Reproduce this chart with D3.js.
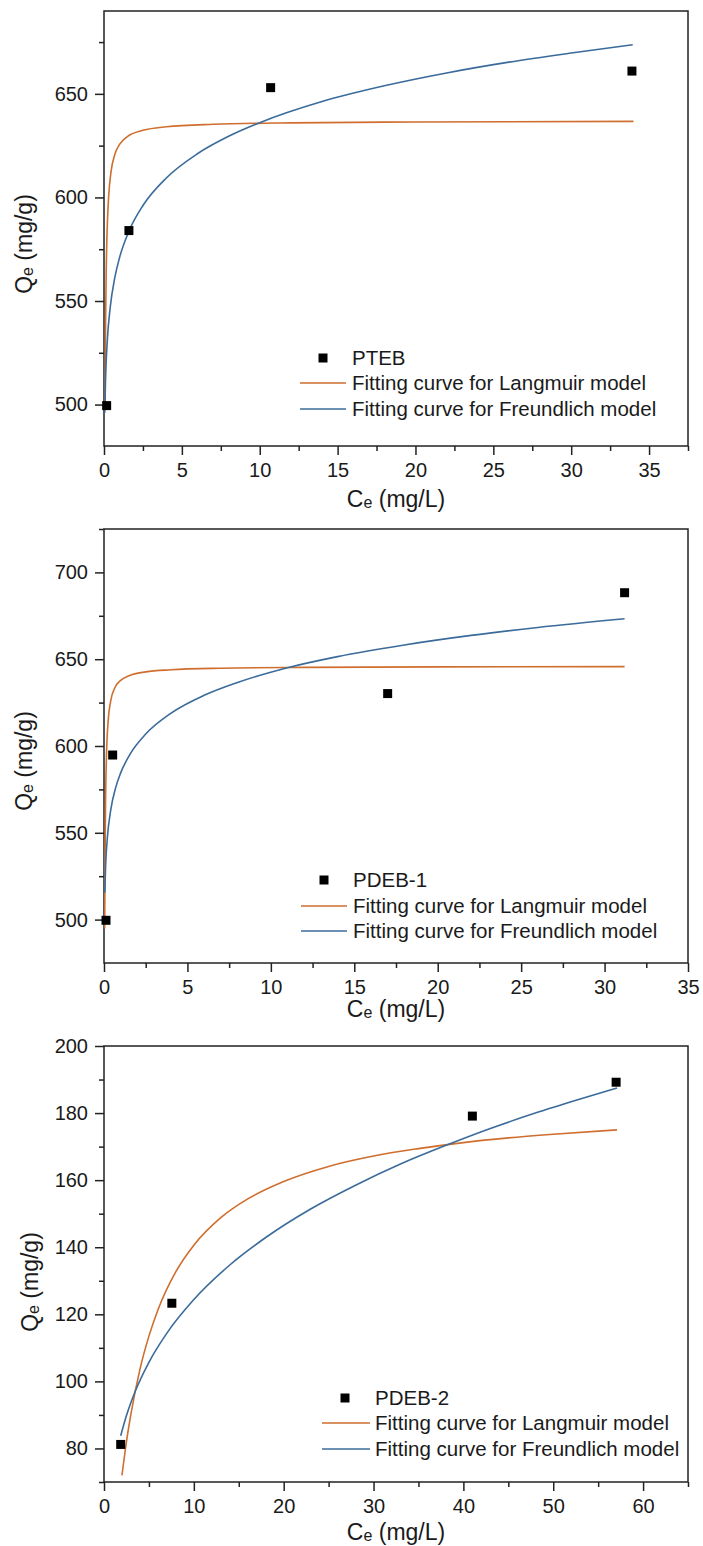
<!DOCTYPE html>
<html>
<head>
<meta charset="utf-8">
<title>Adsorption isotherms</title>
<script src="https://cdn.jsdelivr.net/npm/d3@7"></script>
<style>
  body { margin: 0; background: #fff; }
  svg text { font-family: "Liberation Sans", Arial, sans-serif; fill: #1a1a1a; }
</style>
</head>
<body>
<div id="chart"></div>
<script>
// ---- data ----
// PTEB
const ptebCe = [0.17, 1.6, 10.7, 33.9];
const ptebQe = [499.5, 584, 653, 661];
const ptebLangCe = [0.065, 0.1, 0.15, 0.2, 0.3, 0.45, 0.7, 1, 1.5, 2.5, 4, 7, 12, 20, 34];
const ptebLangQe = [497.7, 539, 568.1, 583.9, 600.6, 612.3, 620.9, 625.6, 629.4, 632.4, 634.1, 635.3, 636.0, 636.4, 636.7];
const ptebFreuCe = [0.05, 0.1, 0.2, 0.4, 0.7, 1, 1.6, 2.5, 4, 6, 8, 10, 14, 18, 22, 26, 30, 33.95];
const ptebFreuQe = [496.1, 512.5, 529.5, 547, 561.5, 571, 583.7, 596.1, 609.4, 621.1, 629.5, 636.1, 646.3, 653.9, 660.1, 665.3, 669.7, 673.7];

// PDEB-1
const pdeb1Ce = [0.12, 0.52, 17.0, 31.2];
const pdeb1Qe = [499.6, 594.8, 630.2, 688.3];
const pdeb1LangCe = [0.042, 0.06, 0.1, 0.15, 0.25, 0.4, 0.66, 1, 1.5, 2.5, 4, 7, 12, 20, 31.2];
const pdeb1LangQe = [494.9, 532.3, 572.6, 595.1, 614.5, 625.9, 633.7, 637.8, 640.5, 642.7, 643.9, 644.8, 645.3, 645.6, 645.7];
const pdeb1FreuCe = [0.047, 0.1, 0.2, 0.4, 0.7, 1, 1.6, 2.5, 4, 6, 8, 11, 14, 18, 22, 26, 31.2];
const pdeb1FreuQe = [515.5, 531.7, 547.1, 562.9, 576, 584.5, 595.9, 606.9, 618.8, 629.2, 636.6, 645.1, 651.5, 658.2, 663.7, 668.3, 673.3];

// PDEB-2
const pdeb2Ce = [1.86, 7.55, 41.0, 57.0];
const pdeb2Qe = [81.2, 123.3, 179.1, 189.2];
const pdeb2LangCe = [2, 2.5, 3, 4, 5, 6, 8, 10, 13, 16, 20, 25, 30, 35, 40, 45, 50, 57.1];
const pdeb2LangQe = [72.0, 82.0, 90.3, 103.6, 113.5, 121.3, 132.7, 140.6, 148.8, 154.4, 159.6, 164.1, 167.2, 169.4, 171.2, 172.6, 173.7, 175.0];
const pdeb2FreuCe = [1.86, 2.5, 3.5, 5, 7, 10, 14, 18, 23, 28, 33, 38, 43, 48, 53, 57.1];
const pdeb2FreuQe = [83.8, 89.8, 97.2, 105.7, 114.4, 124.4, 134.7, 142.9, 151.4, 158.5, 164.8, 170.3, 175.4, 180.0, 184.2, 187.5];

const legendLabels = ["Fitting curve for Langmuir model", "Fitting curve for Freundlich model"];

// ---- layout ----
const W = 703, H = 1546;
const orange = "#cf6e2e", blue = "#3a6b9b";

const panels = [
  { name: "PTEB", ce: ptebCe, qe: ptebQe,
    lang: [ptebLangCe, ptebLangQe], freu: [ptebFreuCe, ptebFreuQe],
    top: 11, bottom: 446, xDom: [0, 37.5], yDom: [480, 690],
    xTicks: [0, 5, 10, 15, 20, 25, 30, 35], xMinor: [2.5, 7.5, 12.5, 17.5, 22.5, 27.5, 32.5, 37.5],
    yTicks: [500, 550, 600, 650], yMinor: [525, 575, 625, 675],
    xTitleY: 507, yTitleY: 244, yTitleX: 32,
    leg: { mx: 323, my: 358, lx0: 300, lx1: 346, tx: 352, rows: [383, 409] } },
  { name: "PDEB-1", ce: pdeb1Ce, qe: pdeb1Qe,
    lang: [pdeb1LangCe, pdeb1LangQe], freu: [pdeb1FreuCe, pdeb1FreuQe],
    top: 529, bottom: 963, xDom: [0, 35], yDom: [475, 725],
    xTicks: [0, 5, 10, 15, 20, 25, 30, 35], xMinor: [2.5, 7.5, 12.5, 17.5, 22.5, 27.5, 32.5],
    yTicks: [500, 550, 600, 650, 700], yMinor: [525, 575, 625, 675, 725],
    xTitleY: 1017, yTitleY: 761, yTitleX: 32,
    leg: { mx: 324, my: 880, lx0: 301, lx1: 347, tx: 353, rows: [906, 931] } },
  { name: "PDEB-2", ce: pdeb2Ce, qe: pdeb2Qe,
    lang: [pdeb2LangCe, pdeb2LangQe], freu: [pdeb2FreuCe, pdeb2FreuQe],
    top: 1046, bottom: 1482, xDom: [0, 65], yDom: [70, 200],
    xTicks: [0, 10, 20, 30, 40, 50, 60], xMinor: [5, 15, 25, 35, 45, 55, 65],
    yTicks: [80, 100, 120, 140, 160, 180, 200], yMinor: [70, 90, 110, 130, 150, 170, 190],
    xTitleY: 1540, yTitleY: 1282, yTitleX: 38,
    leg: { mx: 345, my: 1398, lx0: 322, lx1: 370, tx: 375, rows: [1423, 1449] } }
];

const left = 104, right = 688;

const svg = d3.select("#chart").append("svg")
    .attr("width", W)
    .attr("height", H);

panels.forEach(p => {
  const x = d3.scaleLinear().domain(p.xDom).range([left, right]);
  const y = d3.scaleLinear().domain(p.yDom).range([p.bottom, p.top]);
  const g = svg.append("g");

  // frame
  g.append("rect")
      .attr("x", left).attr("y", p.top)
      .attr("width", right - left).attr("height", p.bottom - p.top)
      .attr("fill", "none").attr("stroke", "#222").attr("stroke-width", 1.5);

  // minor ticks
  g.append("g")
      .attr("transform", `translate(0,${p.bottom})`)
      .call(d3.axisBottom(x).tickValues(p.xMinor).tickFormat("").tickSize(5).tickSizeOuter(0))
      .call(s => s.select(".domain").remove());
  g.append("g")
      .attr("transform", `translate(${left},0)`)
      .call(d3.axisLeft(y).tickValues(p.yMinor).tickFormat("").tickSize(5).tickSizeOuter(0))
      .call(s => s.select(".domain").remove());

  // major ticks + labels
  const xa = g.append("g")
      .attr("transform", `translate(0,${p.bottom})`)
      .call(d3.axisBottom(x).tickValues(p.xTicks).tickFormat(d3.format("d")).tickSize(9).tickPadding(8).tickSizeOuter(0));
  const ya = g.append("g")
      .attr("transform", `translate(${left},0)`)
      .call(d3.axisLeft(y).tickValues(p.yTicks).tickFormat(d3.format("d")).tickSize(9).tickPadding(7).tickSizeOuter(0));
  [xa, ya].forEach(a => {
    a.select(".domain").remove();
    a.selectAll("text").attr("font-size", 20).attr("font-family", null);
  });
  g.selectAll(".tick line").attr("stroke", "#222").attr("stroke-width", 1.5);

  // axis titles
  const xt = g.append("text")
      .attr("x", 396).attr("y", p.xTitleY)
      .attr("text-anchor", "middle").attr("font-size", 23);
  xt.append("tspan").text("C");
  xt.append("tspan").attr("font-size", 16).attr("dy", 1).text("e");
  xt.append("tspan").attr("dy", -1).text(" (mg/L)");

  const yt = g.append("text")
      .attr("transform", `translate(${p.yTitleX},${p.yTitleY}) rotate(-90)`)
      .attr("text-anchor", "middle").attr("font-size", 23);
  yt.append("tspan").text("Q");
  yt.append("tspan").attr("font-size", 16).attr("dy", 1).text("e");
  yt.append("tspan").attr("dy", -1).text(" (mg/g)");

  // fitted curves
  const line = d3.line().x(d => x(d[0])).y(d => y(d[1])).curve(d3.curveMonotoneX);
  g.append("path")
      .datum(d3.zip(p.lang[0], p.lang[1]))
      .attr("d", line)
      .attr("fill", "none").attr("stroke", orange).attr("stroke-width", 1.6);
  g.append("path")
      .datum(d3.zip(p.freu[0], p.freu[1]))
      .attr("d", line)
      .attr("fill", "none").attr("stroke", blue).attr("stroke-width", 1.6);

  // experimental points
  g.selectAll(".pt")
      .data(d3.zip(p.ce, p.qe))
      .enter().append("path")
      .attr("class", "pt")
      .attr("transform", d => `translate(${x(d[0])},${y(d[1])})`)
      .attr("d", d3.symbol(d3.symbolSquare, 81))
      .attr("fill", "#000");

  // legend
  const L = p.leg;
  g.append("path")
      .attr("transform", `translate(${L.mx},${L.my})`)
      .attr("d", d3.symbol(d3.symbolSquare, 81))
      .attr("fill", "#000");
  g.append("text")
      .attr("x", L.tx).attr("y", L.my).attr("dy", "0.35em")
      .attr("font-size", 20.5).text(p.name);
  [orange, blue].forEach((c, i) => {
    g.append("line")
        .attr("x1", L.lx0).attr("x2", L.lx1)
        .attr("y1", L.rows[i]).attr("y2", L.rows[i])
        .attr("stroke", c).attr("stroke-width", 1.6);
    g.append("text")
        .attr("x", L.tx).attr("y", L.rows[i]).attr("dy", "0.35em")
        .attr("font-size", 20.5).text(legendLabels[i]);
  });
});
</script>
</body>
</html>
